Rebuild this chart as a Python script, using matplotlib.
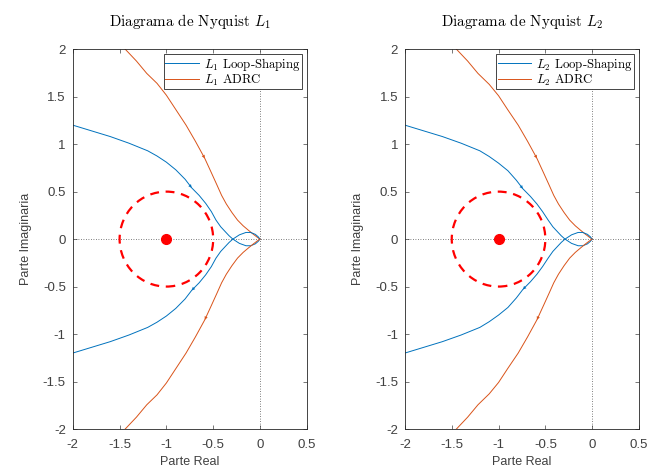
import matplotlib
matplotlib.use("Agg")
import matplotlib.pyplot as plt
from matplotlib.patches import Circle

plt.rcParams["mathtext.fontset"] = "cm"
plt.rcParams["axes.unicode_minus"] = False
plt.rcParams["font.family"] = "Liberation Sans"

# Curve 1 (upper branch, continues through the crossing into the small loop)
ls1_x = [-2.1, -2.0, -1.8, -1.6, -1.4, -1.2, -1.1, -1.0, -0.9, -0.8, -0.73, -0.65, -0.58,
         -0.52, -0.47, -0.42, -0.37, -0.33, -0.29, -0.22, -0.15, -0.10, -0.05, -0.02, 0.0]
ls1_y = [1.23, 1.20, 1.14, 1.08, 1.01, 0.93, 0.875, 0.81, 0.73, 0.63, 0.54, 0.46, 0.376,
         0.29, 0.20, 0.13, 0.077, 0.035, 0.0, -0.045, -0.07, -0.07, -0.05, -0.025, 0.0]
adrc1_x = [-1.50, -1.44, -1.32, -1.21, -1.10, -1.00, -0.90, -0.79, -0.69, -0.59, -0.52,
           -0.46, -0.41, -0.36, -0.30, -0.24, -0.18, -0.12, -0.07, -0.03, 0.0]
adrc1_y = [2.06, 2.0, 1.875, 1.745, 1.64, 1.515, 1.365, 1.20, 1.03, 0.85, 0.70,
           0.57, 0.46, 0.37, 0.28, 0.20, 0.14, 0.09, 0.05, 0.02, 0.0]

# Curve 2
ls2_x = [-2.1, -2.0, -1.8, -1.6, -1.4, -1.2, -1.1, -1.0, -0.9, -0.81, -0.74, -0.66, -0.59,
         -0.53, -0.47, -0.42, -0.37, -0.33, -0.29, -0.22, -0.15, -0.10, -0.05, -0.02, 0.0]
ls2_y = [1.23, 1.20, 1.14, 1.08, 1.01, 0.93, 0.87, 0.80, 0.72, 0.62, 0.53, 0.45, 0.37,
         0.29, 0.20, 0.13, 0.077, 0.035, 0.0, -0.045, -0.07, -0.07, -0.05, -0.025, 0.0]
adrc2_x = [-1.51, -1.45, -1.33, -1.22, -1.10, -1.00, -0.90, -0.79, -0.69, -0.59, -0.52,
           -0.46, -0.41, -0.36, -0.30, -0.24, -0.18, -0.12, -0.07, -0.03, 0.0]
adrc2_y = [2.06, 2.0, 1.875, 1.745, 1.63, 1.51, 1.36, 1.20, 1.03, 0.85, 0.70,
           0.57, 0.46, 0.37, 0.28, 0.20, 0.14, 0.09, 0.05, 0.02, 0.0]

ls_arrow_idx = 10
adrc_arrow_idx = 9

critical_point = (-1.0, 0.0)
circle_radius = 0.5

xticks = [-2, -1.5, -1, -0.5, 0, 0.5]
yticks = [-2, -1.5, -1, -0.5, 0, 0.5, 1, 1.5, 2]

BLUE = "#0072BD"
ORANGE = "#D95319"
TXT = "#404040"


def add_arrow(ax, xs, ys, i, color):
    ax.annotate("", xy=(xs[i], ys[i]), xytext=(xs[i - 1], ys[i - 1]),
                arrowprops=dict(arrowstyle="-|>", color=color, lw=0,
                                mutation_scale=6, shrinkA=0, shrinkB=0))


def draw_panel(ax, lsx, lsy, adx, ady, idx):
    ax.axhline(0, color="#555555", lw=0.6, ls=(0, (1, 2)), zorder=1)
    ax.axvline(0, color="#555555", lw=0.6, ls=(0, (1, 2)), zorder=1)
    lsy_neg = [-v for v in lsy]
    ady_neg = [-v for v in ady]
    ax.plot(lsx, lsy, color=BLUE, lw=0.7, label=rf"$L_{idx}$ Loop-Shaping")
    ax.plot(adx, ady, color=ORANGE, lw=0.7, label=rf"$L_{idx}$ ADRC")
    ax.plot(lsx, lsy_neg, color=BLUE, lw=0.7)
    ax.plot(adx, ady_neg, color=ORANGE, lw=0.7)
    # arrows: upper branch travels towards the origin, lower branch away from it
    add_arrow(ax, lsx, lsy, ls_arrow_idx, BLUE)
    add_arrow(ax, adx, ady, adrc_arrow_idx, ORANGE)
    add_arrow(ax, lsx[::-1], lsy_neg[::-1], len(lsx) - 1 - ls_arrow_idx, BLUE)
    add_arrow(ax, adx[::-1], ady_neg[::-1], len(adx) - 1 - adrc_arrow_idx, ORANGE)

    ax.add_patch(Circle(critical_point, circle_radius, fill=False, ec="#FF0000",
                        lw=1.6, ls=(0, (4, 3)), zorder=3))
    ax.plot(*critical_point, "o", color="#FF0000", ms=7, zorder=4)

    ax.set_xlim(-2, 0.5)
    ax.set_ylim(-2, 2)
    ax.set_xticks(xticks)
    ax.set_yticks(yticks)
    ax.set_xticklabels([f"{t:g}" for t in xticks])
    ax.set_yticklabels([f"{t:g}" for t in yticks])
    ax.tick_params(direction="in", length=3, width=0.5, labelsize=9.5,
                   colors=TXT, top=True, right=True)
    ax.tick_params(axis="x", pad=7)
    ax.tick_params(axis="y", pad=5)
    for s in ax.spines.values():
        s.set_linewidth(0.6)
        s.set_color("#262626")
    ax.set_xlabel("Parte Real", fontsize=9, color=TXT, labelpad=4)
    ax.set_ylabel("Parte Imaginaria", fontsize=9, color=TXT, labelpad=8)
    ax.set_title(rf"Diagrama de Nyquist $L_{idx}$", fontfamily="cmr10",
                 fontsize=10.8, pad=17)
    leg = ax.legend(loc="upper right", prop={"family": "cmr10", "size": 9.2},
                    fancybox=False, framealpha=1, edgecolor="#262626",
                    borderpad=0.1, handlelength=2.6, handletextpad=0.4,
                    labelspacing=0.0, borderaxespad=0.4)
    leg.get_frame().set_linewidth(0.6)


fig = plt.figure(figsize=(6.5, 4.73), dpi=100)
ax1 = fig.add_axes([0.112, 0.093, 0.360, 0.803])
ax2 = fig.add_axes([0.623, 0.093, 0.360, 0.803])
draw_panel(ax1, ls1_x, ls1_y, adrc1_x, adrc1_y, 1)
draw_panel(ax2, ls2_x, ls2_y, adrc2_x, adrc2_y, 2)

fig.savefig("out.png", dpi=100)
